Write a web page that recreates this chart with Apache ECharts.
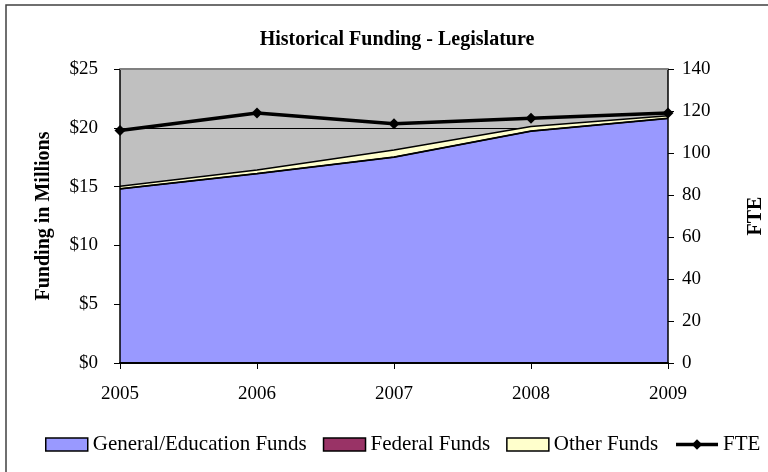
<!DOCTYPE html>
<html>
<head>
<meta charset="utf-8">
<script src="https://cdn.jsdelivr.net/npm/echarts@6/dist/echarts.min.js"></script>
<style>
  html, body { margin: 0; padding: 0; background: #fff; }
  #chart-container { width: 768px; height: 472px; }
</style>
</head>
<body>
<div id="chart-container"></div>
<script>
(function () {
    // 年份
    const years = ['2005', '2006', '2007', '2008', '2009'];
    // funding, millions of dollars
    const generalFunds = [14.8, 16.1, 17.5, 19.7, 20.8];
    const federalFunds = [0.02, 0.02, 0.02, 0.02, 0.02];
    const otherFunds = [0.2, 0.3, 0.6, 0.4, 0.2];
    // FTE
    const fte = [110.7, 119.0, 113.9, 116.5, 119.0];
    // 左轴刻度
    const fundTicks = [0, 25, 5];
    const fteTicks = [0, 140, 20];

    const serif = '"Liberation Serif", "Times New Roman", serif';
    const black = '#000';

    const areaSeries = (name, data, color) => ({
        name,
        type: 'line',
        stack: 'funds',
        data,
        symbol: 'none',
        showSymbol: false,
        lineStyle: { color: black, width: 1.5 },
        itemStyle: { color },
        areaStyle: { color, opacity: 1 },
        z: 2,
    });

    const labelStyle = { color: black, fontSize: 19, fontFamily: serif };
    const nameStyle = { fontFamily: serif, fontSize: 20, fontWeight: 'bold', color: black };

    const option = {
        animation: false,
        backgroundColor: '#fff',
        textStyle: { fontFamily: serif, color: black },
        title: {
            text: 'Historical Funding - Legislature',
            left: 392,
            textAlign: 'center',
            top: 25,
            textStyle: { fontFamily: serif, fontSize: 20, fontWeight: 'bold', color: black },
        },
        graphic: [{
            type: 'rect',
            shape: { x: 6, y: 5, width: 800, height: 520 },
            style: { fill: 'none', stroke: '#404040', lineWidth: 1.5 },
            silent: true,
        }],
        grid: {
            left: 120,
            right: 100,
            top: 69,
            bottom: 109,
            outerBoundsMode: 'none',
            containLabel: false,
            show: true,
            backgroundColor: '#c0c0c0',
            borderWidth: 0,
        },
        legend: {
            left: 45,
            top: 434,
            width: 760,
            padding: 0,
            itemWidth: 42,
            itemHeight: 13,
            itemGap: 16,
            textStyle: { fontFamily: serif, fontSize: 21, color: black },
            data: [
                { name: 'General/Education Funds', icon: 'rect', itemStyle: { color: '#9999ff', borderColor: black, borderWidth: 1.5 } },
                { name: 'Federal Funds', icon: 'rect', itemStyle: { color: '#993366', borderColor: black, borderWidth: 1.5 } },
                { name: 'Other Funds', icon: 'rect', itemStyle: { color: '#ffffcc', borderColor: black, borderWidth: 1.5 } },
                { name: 'FTE', lineStyle: { color: black, width: 3.5 } },
            ],
        },
        xAxis: {
            type: 'category',
            data: years,
            boundaryGap: false,
            axisLine: { lineStyle: { color: black, width: 2 } },
            axisTick: { show: true, length: 6, lineStyle: { color: black } },
            axisLabel: Object.assign({ margin: 22 }, labelStyle),
            splitLine: { show: false },
            z: 5,
        },
        yAxis: [
            {
                type: 'value',
                min: fundTicks[0],
                max: fundTicks[1],
                interval: fundTicks[2],
                name: 'Funding in Millions',
                nameLocation: 'middle',
                nameGap: 66,
                nameRotate: 90,
                nameTextStyle: nameStyle,
                axisLine: { show: false },
                axisTick: { show: false },
                axisLabel: Object.assign({ margin: 22, formatter: '${value}' }, labelStyle),
                splitLine: { show: true, lineStyle: { color: black, width: 1 } },
                z: 1,
            },
            {
                type: 'value',
                min: fteTicks[0],
                max: fteTicks[1],
                interval: fteTicks[2],
                position: 'right',
                name: 'FTE',
                nameLocation: 'middle',
                nameGap: 78,
                nameRotate: 90,
                nameTextStyle: nameStyle,
                axisLine: { show: true, lineStyle: { color: black, width: 1.5 } },
                axisTick: { show: true, length: 6, lineStyle: { color: black } },
                axisLabel: Object.assign({ margin: 14 }, labelStyle),
                splitLine: { show: false },
                z: 5,
            },
            {
                // 左轴线，盖在面积图之上
                type: 'value',
                min: fundTicks[0],
                max: fundTicks[1],
                interval: fundTicks[2],
                position: 'left',
                axisLine: { show: true, lineStyle: { color: black, width: 1.5 } },
                axisTick: { show: true, length: 6, lineStyle: { color: black } },
                axisLabel: { show: false },
                splitLine: { show: false },
                z: 5,
            },
        ],
        series: [
            areaSeries('General/Education Funds', generalFunds, '#9999ff'),
            areaSeries('Federal Funds', federalFunds, '#993366'),
            areaSeries('Other Funds', otherFunds, '#ffffcc'),
            {
                name: 'FTE',
                type: 'line',
                yAxisIndex: 1,
                data: fte,
                symbol: 'diamond',
                symbolSize: 11,
                lineStyle: { color: black, width: 3.5 },
                itemStyle: { color: black },
                z: 4,
            },
        ],
    };

    const myChart = echarts.init(document.getElementById('chart-container'));
    myChart.setOption(option);
    // 顶部灰色边框线 ($25处)
    const p0 = myChart.convertToPixel({ gridIndex: 0 }, [0, fundTicks[1]]);
    const p1 = myChart.convertToPixel({ gridIndex: 0 }, [years.length - 1, fundTicks[1]]);
    myChart.setOption({
        graphic: [
            option.graphic[0],
            {
                type: 'line',
                shape: { x1: p0[0], y1: p0[1], x2: p1[0], y2: p1[1] },
                style: { stroke: '#808080', lineWidth: 2 },
                z: 10,
                silent: true,
            },
        ],
    });
})();
</script>
</body>
</html>
